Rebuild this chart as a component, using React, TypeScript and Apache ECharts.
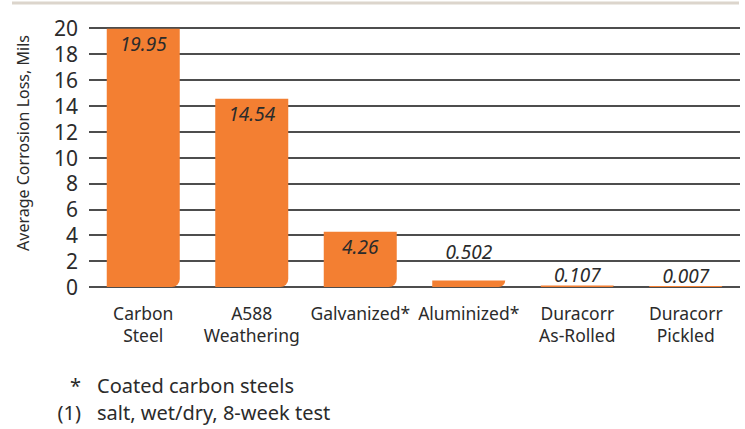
import React, { useEffect, useRef } from "react";
import * as echarts from "echarts";

const categories = [
  "Carbon\nSteel",
  "A588\nWeathering",
  "Galvanized*",
  "Aluminized*",
  "Duracorr\nAs-Rolled",
  "Duracorr\nPickled",
];
const lossValues = [19.95, 14.54, 4.26, 0.502, 0.107, 0.007];
const labelTexts = ["19.95", "14.54", "4.26", "0.502", "0.107", "0.007"];
const yTicks = { min: 0, max: 20, interval: 2 };
const yAxisTitle = "Average Corrosion Loss, Mils";
const footnoteMarks = ["*", "(1)"];
const footnoteTexts = ["Coated carbon steels", "salt, wet/dry, 8-week test"];

const FONT = "'Noto Sans', 'Open Sans', sans-serif";
const INK = "#2b2b2b";

export default function App() {
  const ref = useRef<HTMLDivElement>(null);
  useEffect(() => {
    document.body.style.margin = "0";
    if (!ref.current) return;
    const chart = echarts.init(ref.current, null, { renderer: "svg" });
    const data = lossValues.map((v, i) => {
      const inside = v > 2;
      return {
        value: v,
        label: {
          show: true,
          position: inside ? "insideTop" : "top",
          distance: inside ? 6 : i === 3 ? 19 : 1,
          formatter: () => labelTexts[i],
          fontStyle: "italic",
          fontSize: 19,
          color: INK,
          fontFamily: FONT,
        },
      };
    });
    chart.setOption({
      animation: false,
      grid: { left: 89, right: 5, top: 28, bottom: 142 },
      xAxis: {
        type: "category",
        data: categories,
        axisLine: { show: false },
        axisTick: { show: false },
        axisLabel: {
          fontSize: 17.5,
          lineHeight: 22,
          color: INK,
          fontFamily: FONT,
          margin: 15,
          interval: 0,
        },
      },
      yAxis: {
        type: "value",
        min: yTicks.min,
        max: yTicks.max,
        interval: yTicks.interval,
        axisLine: { show: false },
        axisTick: { show: false },
        axisLabel: {
          fontSize: 21,
          color: INK,
          fontFamily: FONT,
          margin: 11,
        },
        splitLine: { lineStyle: { color: "#4d4d4d", width: 2 } },
      },
      series: [
        {
          type: "bar",
          data,
          barWidth: 73,
          barMinHeight: 1,
          itemStyle: { color: "#F37F32", borderRadius: [0, 0, 8, 0] },
        },
      ],
      graphic: [
        {
          type: "line",
          shape: { x1: 12, y1: 3, x2: 739, y2: 3 },
          style: { stroke: "#DCD5CC", lineWidth: 3 },
        },
        {
          type: "text",
          x: 23,
          y: 143,
          rotation: Math.PI / 2,
          style: {
            text: yAxisTitle,
            fontSize: 16,
            fill: INK,
            fontFamily: FONT,
            align: "center",
            verticalAlign: "middle",
          },
        },
        ...footnoteMarks.map((m, i) => ({
          type: "text",
          x: 81,
          y: 385 + i * 27,
          style: {
            text: m,
            fontSize: 20,
            fill: INK,
            fontFamily: FONT,
            align: "right",
            verticalAlign: "middle",
          },
        })),
        ...footnoteTexts.map((t, i) => ({
          type: "text",
          x: 97,
          y: 385 + i * 27,
          style: {
            text: t,
            fontSize: 20,
            fill: INK,
            fontFamily: FONT,
            align: "left",
            verticalAlign: "middle",
          },
        })),
      ],
    });
    return () => chart.dispose();
  }, []);
  return <div ref={ref} style={{ width: 745, height: 429 }} />;
}
